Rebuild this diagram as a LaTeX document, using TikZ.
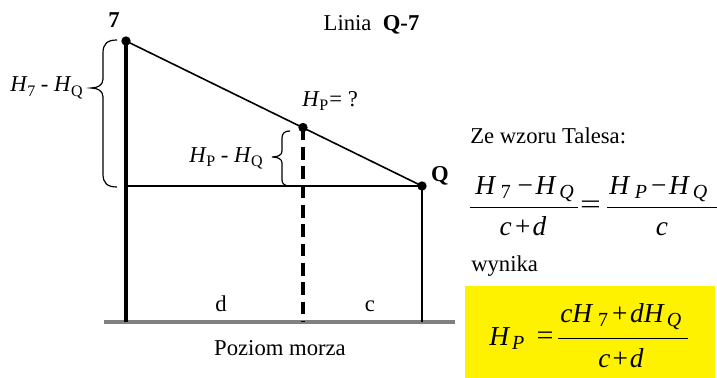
\documentclass[tikz,border=0pt]{standalone}
\usepackage{fontspec}
\setmainfont{Liberation Serif}
\usepackage{graphicx}
% label subscript (upright, small)
\newcommand{\Hl}[1]{\textit{H}\kern-0.3pt\raisebox{-0.22em}{\fontsize{12}{12}\selectfont #1}}
% formula subscript
\newcommand{\fs}[1]{\raisebox{-3pt}{\fontsize{15}{15}\selectfont #1}}
\begin{document}
\begin{tikzpicture}[x=0.75pt,y=-0.75pt,
  lbl/.style={font=\fontsize{17}{20}\selectfont, inner sep=0pt},
  blbl/.style={font=\fontsize{17}{20}\selectfont\bfseries, inner sep=0pt},
  frm/.style={font=\fontsize{20.5}{24}\selectfont, inner sep=0pt},
  dot/.style={circle, fill=black, inner sep=0pt, minimum size=7pt},
  thin line/.style={line width=1.2pt},
  bar/.style={line width=1.3pt},
  brace/.style={line width=0.9pt}]
\useasboundingbox (0,0) rectangle (717,378);
% key points
\coordinate (p7) at (126,41);
\coordinate (pP) at (303,127.5);
\coordinate (pQ) at (422,186);
\coordinate (h7) at (126,186);
\coordinate (b7) at (126,322);
\coordinate (bP) at (303,322);
\coordinate (bQ) at (422,322);
\coordinate (g1) at (104,322);
\coordinate (g2) at (455,322);
% ground
\draw[line width=3pt, color={rgb,255:red,128;green,128;blue,128}] (g1) -- (g2);
% verticals
\draw[line width=3.2pt] (p7) -- (b7);
\draw[line width=2.5pt, dash pattern=on 9.5pt off 5pt] (pP) -- (bP);
\draw[line width=2pt] (pQ) -- (bQ);
% slope and horizontal
\draw[thin line] (p7) -- (pQ);
\draw[thin line] (h7) -- (pQ);
% dots
\node[dot] (d7) at (p7) {};
\node[dot] (dP) at (pP) {};
\node[dot] (dQ) at (pQ) {};
% braces
\draw[brace] (117,40) .. controls (107,40) and (103,44) .. (103,53) -- (103,79)
  .. controls (103,85) and (98,88) .. (91,88)
  .. controls (98,88) and (103,91) .. (103,97) -- (103,174)
  .. controls (103,183) and (107,187) .. (117,187);
\draw[brace] (290,131) .. controls (285,131) and (282,133) .. (282,138) -- (282,151)
  .. controls (282,155) and (278,157) .. (272,157)
  .. controls (278,157) and (282,159) .. (282,163) -- (282,180)
  .. controls (282,184) and (285,186) .. (290,186);
% labels
\node[blbl, anchor=base] (t7) at (114,28) {7};
\node[blbl, anchor=base] (tQ) at (440,181) {Q};
\node[lbl, anchor=base] (title) at (371.5,31) {Linia \ \textbf{Q-7}};
\node[lbl, anchor=base east] (l7Q) at (83,92) {\Hl{7} - \Hl{Q}};
\node[lbl, anchor=base east] (lPQ) at (263,162) {\Hl{P} - \Hl{Q}};
\node[lbl, anchor=base west] (lP) at (302,106) {\Hl{P}\kern1pt= ?};
\node[lbl, anchor=base] (ld) at (221,311) {d};
\node[lbl, anchor=base] (lc) at (370,311) {c};
\node[lbl, anchor=base] (sea) at (280,355) {Poziom morza};
\node[lbl, anchor=base west] (tal) at (470,143) {Ze wzoru Talesa:};
\node[lbl, anchor=base west] (wyn) at (471,271) {wynika};
% Thales formula
\coordinate (f1a) at (470,207.5);
\coordinate (f1b) at (578,207.5);
\coordinate (f2a) at (607,207.5);
\coordinate (f2b) at (717,207.5);
\draw[bar] (f1a) -- (f1b);
\draw[bar] (f2a) -- (f2b);
\node[frm, anchor=base west] (n1) at (475,194) {\textit{H}\kern3.5pt\fs{7}\kern5pt−\kern2pt\textit{H}\kern2pt\fs{\textit{Q}}};
\node[frm, anchor=base] (m1) at (523,235.5) {\textit{c}\kern2.5pt+\kern1.5pt\textit{d}};
\node[frm] (eq1) at (590.5,207.5) {\scalebox{1.35}[1]{=}};
\node[frm, anchor=base west] (n2) at (609,194) {\textit{H}\kern3.5pt\fs{\textit{P}}\kern3pt−\kern2pt\textit{H}\kern2pt\fs{\textit{Q}}};
\node[frm, anchor=base] (m2) at (662,235.5) {\textit{c}};
% result box
\node[fill=yellow, minimum width=187.5pt, minimum height=69pt, inner sep=0pt, anchor=north west] (ybox) at (465,286) {};
\coordinate (f3a) at (558,338.5);
\coordinate (f3b) at (688,338.5);
\draw[bar] (f3a) -- (f3b);
\node[frm, anchor=base west] (hp) at (489,345) {\textit{H}\kern1.5pt\fs{\textit{P}}};
\node[frm] (eq2) at (545,338.5) {\scalebox{1.1}[1]{=}};
\node[frm, anchor=base west] (n3) at (560,322.5) {\textit{c}\textit{H}\kern3.5pt\fs{7}\kern3pt+\kern2pt\textit{d}\textit{H}\kern1.5pt\fs{\textit{Q}}};
\node[frm, anchor=base] (m3) at (621,367) {\textit{c}\kern1.5pt+\kern1.5pt\textit{d}};
\end{tikzpicture}
\end{document}
